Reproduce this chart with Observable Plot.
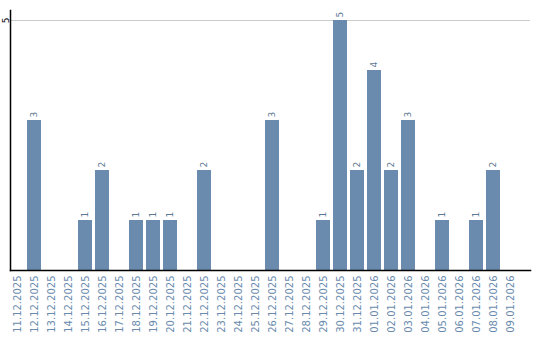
<!DOCTYPE html>
<html>
<head>
<meta charset="utf-8">
<script src="https://cdn.jsdelivr.net/npm/d3@7"></script>
<script src="https://cdn.jsdelivr.net/npm/@observablehq/plot@0.6"></script>
<style>
  html, body { margin: 0; padding: 0; background: #fff; }
  #chart { width: 540px; height: 340px; }
</style>
</head>
<body>
<div id="chart"></div>
<script>
const dates = [
  "11.12.2025","12.12.2025","13.12.2025","14.12.2025","15.12.2025","16.12.2025",
  "17.12.2025","18.12.2025","19.12.2025","20.12.2025","21.12.2025","22.12.2025",
  "23.12.2025","24.12.2025","25.12.2025","26.12.2025","27.12.2025","28.12.2025",
  "29.12.2025","30.12.2025","31.12.2025","01.01.2026","02.01.2026","03.01.2026",
  "04.01.2026","05.01.2026","06.01.2026","07.01.2026","08.01.2026","09.01.2026"
];
const counts = [0,3,0,0,1,2, 0,1,1,1,0,2, 0,0,0,3,0,0, 1,5,2,4,2,3, 0,1,0,1,2,0];
const yTicks = [5];

const data = dates.map((d, i) => ({date: d, count: counts[i]}));

const chart = Plot.plot({
  width: 540,
  height: 340,
  marginLeft: 10,
  marginRight: 10,
  marginTop: 10,
  marginBottom: 70,
  style: {fontFamily: "DejaVu Sans", background: "#fff"},
  x: {domain: dates, range: [8.5, 518.5], paddingInner: 0.18, paddingOuter: 0.09},
  y: {domain: [0, 5.2]},
  marks: [
    Plot.ruleY(yTicks, {stroke: "#cccccc", strokeWidth: 1}),
    Plot.barY(data, {x: "date", y: "count", fill: "#6a8bad"}),
    Plot.text(data.filter(d => d.count > 0), {
      x: "date", y: "count", text: d => String(d.count),
      rotate: -90, textAnchor: "start", dx: 0, dy: -3,
      fill: "#5c7894", fontSize: 9
    }),
    Plot.axisX({tickRotate: -90, tickSize: 0, tickPadding: 5, fontSize: 10, fill: "#6a8bad", label: null}),
    Plot.axisY(yTicks, {tickSize: 0, tickPadding: 2, tickRotate: -90, tickFormat: d => String(d), fontSize: 9, fill: "#000", label: null}),
    Plot.frame({anchor: "left", stroke: "#000", strokeWidth: 1.5}),
    Plot.frame({anchor: "bottom", stroke: "#000", strokeWidth: 1.5})
  ]
});
document.getElementById("chart").appendChild(chart);
</script>
</body>
</html>
